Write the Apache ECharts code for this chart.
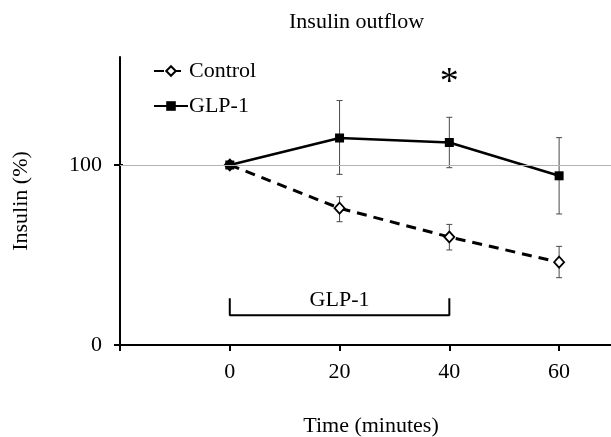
<!DOCTYPE html>
<html>
<head>
<meta charset="utf-8">
<script src="https://cdn.jsdelivr.net/npm/echarts@6/dist/echarts.min.js"></script>
<style>
  html, body { margin: 0; padding: 0; background: #fff; }
  #main { width: 611px; height: 437px; }
</style>
</head>
<body>
<div id="main"></div>
<script>
// time points (minutes)
var times = [0, 20, 40, 60];
// Control (%)
var controlMean = [100, 76, 60, 46];
var controlLow = [100, 68.5, 52.8, 37.4];
var controlHigh = [100, 82.4, 67, 54.8];
// GLP-1 (%)
var glpMean = [100, 115, 112.5, 94];
var glpLow = [100, 94.8, 98.5, 72.8];
var glpHigh = [100, 135.8, 126.5, 115.2];
// GLP-1 infusion bracket
var bracketX = [0, 0, 40, 40];
var bracketY = [26, 16.5, 16.5, 26];
var bracketLabel = [20, 25, 'GLP-1'];
var starPoint = [40, 150, '*'];
var refLine = 100;

var xTicks = [-20, 0, 20, 40, 60];
var xLabels = [0, 20, 40, 60];
var yTicks = [0, 100];

var font = 'Liberation Serif';

function pairs(xs, ys) {
    return xs.map(function (x, i) { return [x, ys[i]]; });
}
function errData(low, high) {
    var out = [];
    times.forEach(function (t, i) {
        if (high[i] - low[i] > 0.5) out.push([t, low[i], high[i]]);
    });
    return out;
}

var chartDom = document.getElementById('main');
var myChart = echarts.init(chartDom);
var option;

function renderErr(params, api) {
    var x = api.value(0);
    var lo = api.coord([x, api.value(1)]);
    var hi = api.coord([x, api.value(2)]);
    var w = 3;
    var style = { stroke: '#4a4a4a', lineWidth: 1 };
    return {
        type: 'group',
        children: [
            { type: 'line', shape: { x1: lo[0], y1: lo[1], x2: hi[0], y2: hi[1] }, style: style },
            { type: 'line', shape: { x1: lo[0] - w, y1: lo[1], x2: lo[0] + w, y2: lo[1] }, style: style },
            { type: 'line', shape: { x1: hi[0] - w, y1: hi[1], x2: hi[0] + w, y2: hi[1] }, style: style }
        ]
    };
}

option = {
    animation: false,
    textStyle: { fontFamily: font, color: '#000' },
    title: {
        text: 'Insulin outflow',
        left: 284,
        top: 6,
        textStyle: { fontFamily: font, fontSize: 22, fontWeight: 'normal', color: '#000' }
    },
    legend: {
        data: ['Control', 'GLP-1'],
        orient: 'vertical',
        left: 148,
        top: 55,
        itemWidth: 34,
        itemHeight: 12,
        itemGap: 13,
        textStyle: { fontFamily: font, fontSize: 22, color: '#000', padding: [0, 0, 0, -4] }
    },
    grid: {
        left: 120,
        top: 57,
        width: 494,
        height: 288,
        outerBoundsMode: 'none'
    },
    xAxis: {
        type: 'value',
        min: -20,
        max: 70,
        name: 'Time (minutes)',
        nameLocation: 'middle',
        nameGap: 70,
        nameTextStyle: { fontFamily: font, fontSize: 22, color: '#000', padding: [0, 0, 0, 8] },
        axisLine: { onZero: false, lineStyle: { color: '#000', width: 2 } },
        axisTick: { show: true, length: 6, customValues: xTicks, lineStyle: { color: '#000', width: 2 } },
        axisLabel: { customValues: xLabels, margin: 16, fontFamily: font, fontSize: 22, color: '#000' },
        splitLine: { show: false }
    },
    yAxis: [
        {
            type: 'value',
            min: 0,
            max: 160,
            name: 'Insulin (%)',
            nameLocation: 'middle',
            nameGap: 88,
            nameTextStyle: { fontFamily: font, fontSize: 22, color: '#000' },
            axisLine: { show: true, onZero: false, lineStyle: { color: '#000', width: 2 } },
            axisTick: { show: true, length: 6, customValues: yTicks, lineStyle: { color: '#000', width: 2 } },
            axisLabel: { customValues: yTicks, margin: 18, fontFamily: font, fontSize: 22, color: '#000' },
            splitLine: { show: false }
        },
        {
            type: 'value',
            min: 0,
            max: 160,
            position: 'left',
            axisLine: { show: false, onZero: false },
            axisTick: { show: true, inside: true, length: 3, customValues: yTicks, lineStyle: { color: '#000', width: 2 } },
            axisLabel: { show: false },
            splitLine: { show: false }
        }
    ],
    series: [
        {
            type: 'line',
            name: 'bracket',
            data: pairs(bracketX, bracketY),
            symbol: 'none',
            lineStyle: { color: '#000', width: 2 },
            z: 1,
            silent: true,
            markLine: {
                silent: true,
                symbol: 'none',
                label: { show: false },
                lineStyle: { color: '#b3b3b3', width: 1, type: 'solid' },
                data: [{ yAxis: refLine }]
            }
        },
        {
            type: 'custom',
            name: 'errControl',
            renderItem: renderErr,
            data: errData(controlLow, controlHigh),
            z: 2
        },
        {
            type: 'custom',
            name: 'errGLP',
            renderItem: renderErr,
            data: errData(glpLow, glpHigh),
            z: 2
        },
        {
            type: 'line',
            name: 'Control',
            data: pairs(times, controlMean),
            symbol: 'diamond',
            symbolSize: [10, 11],
            showAllSymbol: true,
            color: '#000',
            itemStyle: { color: '#fff', borderColor: '#000', borderWidth: 1.8 },
            lineStyle: { color: '#000', width: 3, type: [10, 7] },
            z: 3
        },
        {
            type: 'line',
            name: 'GLP-1',
            data: pairs(times, glpMean),
            symbol: 'rect',
            symbolSize: 9,
            color: '#000',
            itemStyle: { color: '#000' },
            lineStyle: { color: '#000', width: 2.5 },
            z: 4
        },
        {
            type: 'scatter',
            name: 'labels',
            symbolSize: 0,
            silent: true,
            itemStyle: { opacity: 1 },
            data: [
                { value: bracketLabel, label: { fontSize: 22 } },
                { value: starPoint, label: { fontSize: 38, offset: [0, 8] } }
            ],
            label: {
                show: true,
                position: 'inside',
                formatter: function (p) { return p.value[2]; },
                fontFamily: font,
                color: '#000',
                opacity: 1
            },
            z: 5
        }
    ]
};

option && myChart.setOption(option);
</script>
</body>
</html>
